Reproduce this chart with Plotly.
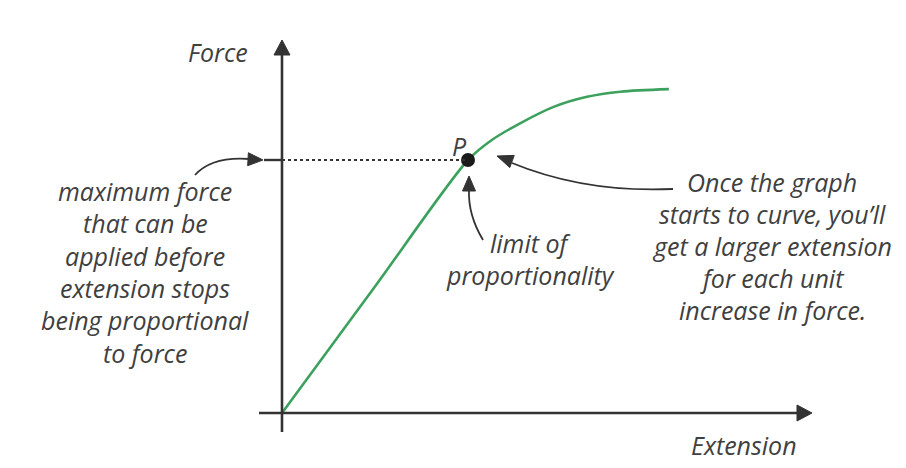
import math
import plotly.graph_objects as go

# ---- data (arbitrary units) ----
extension = [0, 5, 10, 11.3, 12.8, 14.6, 16.4, 18.2, 20.8]
force = [0, 5, 10, 10.8, 11.45, 12.1, 12.5, 12.7, 12.8]
p_ext = [10]
p_force = [10]
p_label = ["P"]
x_title = "Extension"
y_title = "Force"
left_note = ["maximum force", "that can be", "applied before",
             "extension stops", "being proportional", "to force"]
mid_note = ["limit of", "proportionality"]
right_note = ["Once the graph", "starts to curve, you\u2019ll",
              "get a larger extension", "for each unit", "increase in force."]

# the page body has an 8px margin; the figure fills the rest of the window
PAGE_W, PAGE_H = 906, 468
OFF = 8
W, H = PAGE_W - OFF, PAGE_H - OFF
OX, OY = 282, 413          # page-pixel position of origin
SX, SY = 18.6, 25.3        # pixels per unit


def dx(px):
    return (px - OX) / SX


def dy(py):
    return (OY - py) / SY


TEXT = "#404040"
AX = "#333333"
GREEN = "#3da15e"
FONT = "Open Sans"
FS = 25

fig = go.Figure()

fig.add_trace(go.Scatter(x=extension, y=force, mode="lines",
                         line=dict(color=GREEN, width=2.6, shape="spline", smoothing=0.8),
                         hoverinfo="skip", showlegend=False))

shapes = []

# dashed line from y-axis to P
shapes.append(dict(type="line", xref="x", yref="y", x0=0, x1=p_ext[0], y0=p_force[0], y1=p_force[0],
                   line=dict(color=AX, width=2, dash="3px,3px")))
# small tick on y axis
shapes.append(dict(type="line", xref="x", yref="y", x0=dx(264), x1=0, y0=p_force[0], y1=p_force[0],
                   line=dict(color=AX, width=2.4)))

# axes
shapes.append(dict(type="line", xref="x", yref="y", x0=dx(259), x1=dx(800), y0=0, y1=0,
                   line=dict(color=AX, width=2.6)))
shapes.append(dict(type="line", xref="x", yref="y", x0=0, x1=0, y0=dy(432), y1=dy(54),
                   line=dict(color=AX, width=2.6)))


def head(tip, ang_deg, length=15, width=15, color=AX):
    tx, ty = tip
    a = math.radians(ang_deg)
    ux, uy = math.cos(a), math.sin(a)          # pointing direction (pixel space)
    bx, by = tx - ux * length, ty - uy * length
    px_, py_ = -uy, ux
    p1 = (bx + px_ * width / 2, by + py_ * width / 2)
    p2 = (bx - px_ * width / 2, by - py_ * width / 2)
    path = "M {} {} L {} {} L {} {} Z".format(dx(tx), dy(ty), dx(p1[0]), dy(p1[1]), dx(p2[0]), dy(p2[1]))
    return dict(type="path", xref="x", yref="y", path=path, fillcolor=color,
                line=dict(color=color, width=1))


def curve(p0, c, p1, color=AX, width=1.8):
    path = "M {} {} Q {} {} {} {}".format(dx(p0[0]), dy(p0[1]), dx(c[0]), dy(c[1]), dx(p1[0]), dy(p1[1]))
    return dict(type="path", xref="x", yref="y", path=path, line=dict(color=color, width=width))


# axis arrowheads
shapes.append(head((812, OY), 0, length=15, width=16))
shapes.append(head((OX, 40), -90, length=15, width=16))

# curved arrows
shapes.append(curve((195, 175), (212, 156), (250, 159)))
shapes.append(head((263, 160), 3, length=15, width=13))

shapes.append(curve((483, 240), (468, 215), (469, 190)))
shapes.append(head((469, 176), -90, length=15, width=13))

shapes.append(curve((673, 189), (585, 193), (512, 163)))
shapes.append(head((497, 156), 200, length=16, width=13))

fig.add_trace(go.Scatter(x=p_ext, y=p_force, mode="markers",
                         marker=dict(color="#1a1a1a", size=14),
                         hoverinfo="skip", showlegend=False))

annotations = []


def txt(s, px, py, size=FS):
    annotations.append(dict(x=dx(px), y=dy(py), xref="x", yref="y", text=s, showarrow=False,
                            xanchor="center", yanchor="middle",
                            font=dict(family=FONT, size=size, color=TEXT, style="italic")))


annotations.append(dict(x=p_ext[0] - 9 / SX, y=p_force[0] + 14 / SY, xref="x", yref="y",
                        text=p_label[0], showarrow=False, xanchor="center", yanchor="middle",
                        font=dict(family=FONT, size=FS, color=TEXT, style="italic")))

txt(y_title, 218, 52)
txt(x_title, 744, 445)

for i, s in enumerate(left_note):
    txt(s, 145, 191 + i * 32.3)
for i, s in enumerate(mid_note):
    txt(s, 530, 243 + i * 32)
for i, s in enumerate(right_note):
    txt(s, 772, 182 + i * 32)

fig.update_layout(
    width=W, height=H,
    margin=dict(l=0, r=0, t=0, b=0),
    paper_bgcolor="white", plot_bgcolor="white",
    xaxis=dict(range=[dx(OFF), dx(PAGE_W)], visible=False, fixedrange=True),
    yaxis=dict(range=[dy(PAGE_H), dy(OFF)], visible=False, fixedrange=True),
    shapes=shapes, annotations=annotations,
    showlegend=False,
)

fig.write_html("out.html")
